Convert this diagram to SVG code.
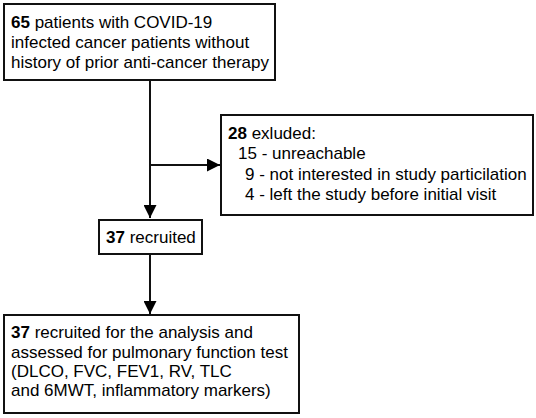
<svg xmlns="http://www.w3.org/2000/svg" width="536" height="418" viewBox="0 0 536 418">
<style>
.box{fill:#fff;stroke:#111;stroke-width:2}
.t{font-family:"Liberation Sans",Arial,sans-serif;font-size:17px;fill:#000}
.b{font-weight:bold}
.c{stroke:#111;stroke-width:2;fill:none}
</style>
<defs>
<marker id="ah" viewBox="0 0 13 13" refX="13" refY="6.5" markerWidth="13" markerHeight="13" markerUnits="userSpaceOnUse" orient="auto">
<path d="M0,0 L13,6.5 L0,13 Z" fill="#000"/>
</marker>
</defs>
<g id="connectors">
<line class="c" x1="150" y1="80" x2="150" y2="218" marker-end="url(#ah)"/>
<line class="c" x1="150" y1="165" x2="220" y2="165" marker-end="url(#ah)"/>
<line class="c" x1="150" y1="254" x2="150" y2="314" marker-end="url(#ah)"/>
</g>
<g id="n1">
<rect class="box" x="4" y="4" width="271" height="76"/>
<text class="t" x="11" y="28"><tspan class="b">65</tspan> patients with COVID-19</text>
<text class="t" x="11" y="48">infected cancer patients without</text>
<text class="t" x="11" y="68">history of prior anti-cancer therapy</text>
</g>
<g id="n2">
<rect class="box" x="221" y="115" width="312" height="100"/>
<text class="t" x="228" y="139"><tspan class="b">28</tspan> exluded:</text>
<text class="t" x="238" y="159">15 - unreachable</text>
<text class="t" x="245" y="180">9 - not interested in study particilation</text>
<text class="t" x="245" y="200">4 - left the study before initial visit</text>
</g>
<g id="n3">
<rect class="box" x="99" y="220" width="103" height="34"/>
<text class="t" x="106" y="243"><tspan class="b">37</tspan> recruited</text>
</g>
<g id="n4">
<rect class="box" x="4" y="315" width="295" height="98"/>
<text class="t" x="11" y="338"><tspan class="b">37</tspan> recruited for the analysis and</text>
<text class="t" x="11" y="358">assessed for pulmonary function test</text>
<text class="t" x="11" y="377">(DLCO, FVC, FEV1, RV, TLC</text>
<text class="t" x="11" y="396">and 6MWT, inflammatory markers)</text>
</g>
</svg>
